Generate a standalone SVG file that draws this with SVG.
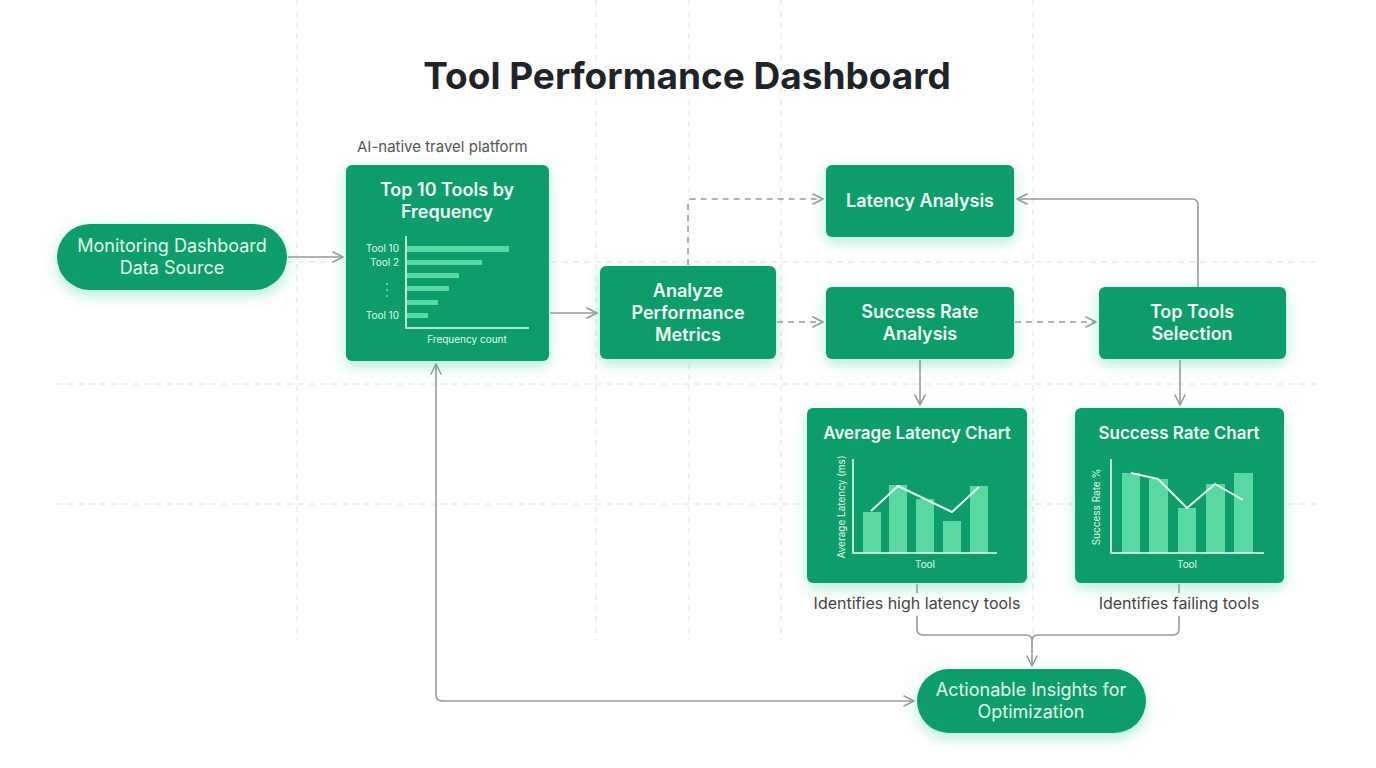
<svg xmlns="http://www.w3.org/2000/svg" width="1376" height="768" viewBox="0 0 1376 768">
<defs>
<filter id="glow" x="-30%" y="-30%" width="160%" height="170%">
<feDropShadow dx="0" dy="5" stdDeviation="7" flood-color="#3fd39a" flood-opacity="0.42"/>
</filter>
<marker id="arr" viewBox="0 0 12 12" refX="11" refY="6" markerWidth="12" markerHeight="12" markerUnits="userSpaceOnUse" orient="auto-start-reverse">
<path d="M1,1 L11,6 L1,11" fill="none" stroke="#999" stroke-width="1.6" stroke-linecap="round" stroke-linejoin="round"/>
</marker>
<style>
.grid{stroke:#e2e2e2;stroke-width:1;stroke-dasharray:6 5;fill:none}
.node{fill:#0f9d6b;filter:url(#glow)}
.t{font-family:Inter,"Noto Sans","Liberation Sans",sans-serif;text-anchor:middle}
.b{font-weight:600;font-size:18px;fill:#f2fcf7}
.r{font-weight:400;font-size:18px;fill:#e3f7ee}
.small{font-weight:400;font-size:10px;fill:#e3f7ee}
.lab{font-weight:400;font-size:16px;fill:#444}
.bar{fill:#5ad8a2}
.axis{stroke:#e8faf1;stroke-width:1.6;fill:none}
.trend{stroke:#e8faf1;stroke-width:2;fill:none;stroke-linejoin:round}
.c{stroke:#999;stroke-width:1.6;fill:none}
.d{stroke-dasharray:6 5}
</style>
</defs>
<rect width="1376" height="768" fill="#ffffff"/>
<g id="grid">
<line class="grid" x1="297" y1="0" x2="297" y2="640"/>
<line class="grid" x1="596" y1="0" x2="596" y2="640"/>
<line class="grid" x1="689" y1="0" x2="689" y2="640"/>
<line class="grid" x1="781" y1="0" x2="781" y2="640"/>
<line class="grid" x1="1033" y1="0" x2="1033" y2="640"/>
<line class="grid" x1="56" y1="262" x2="1317" y2="262"/>
<line class="grid" x1="56" y1="384" x2="1317" y2="384"/>
<line class="grid" x1="56" y1="504" x2="1317" y2="504"/>
</g>
<text class="t" x="687" y="89" style="font-weight:700;font-size:37px;fill:#1f2328">Tool Performance Dashboard</text>
<text x="357" y="152" style="font-family:Inter,'Noto Sans','Liberation Sans',sans-serif;font-size:15px;fill:#555">AI-native travel platform</text>
<g id="connectors">
<line class="c" x1="288" y1="257" x2="343" y2="257" marker-end="url(#arr)"/>
<line class="c" x1="550" y1="313" x2="597" y2="313" marker-end="url(#arr)"/>
<path class="c d" d="M688,265 V203 Q688,199 692,199 H823" marker-end="url(#arr)"/>
<line class="c d" x1="777" y1="322" x2="823" y2="322" marker-end="url(#arr)"/>
<line class="c d" x1="1015" y1="322" x2="1096" y2="322" marker-end="url(#arr)"/>
<path class="c" d="M1198,287 V205 Q1198,199 1192,199 H1017" marker-end="url(#arr)"/>
<line class="c" x1="920" y1="360" x2="920" y2="405" marker-end="url(#arr)"/>
<line class="c" x1="1180" y1="360" x2="1180" y2="405" marker-end="url(#arr)"/>
<line class="c" x1="917" y1="584" x2="917" y2="593"/>
<line class="c" x1="1179" y1="584" x2="1179" y2="593"/>
<path class="c" d="M917,616 V629 Q917,635 923,635 H1026 Q1032,635 1032,641 V666" marker-end="url(#arr)"/>
<path class="c" d="M1179,616 V629 Q1179,635 1173,635 H1038 Q1032,635 1032,641"/>
<path class="c" d="M436,364 V695 Q436,701 442,701 H914" marker-start="url(#arr)" marker-end="url(#arr)"/>
</g>
<g id="monitoring">
<rect class="node" x="57" y="224" width="230" height="66" rx="33"/>
<text class="t r" x="172" y="252">Monitoring Dashboard</text>
<text class="t r" x="172" y="274">Data Source</text>
</g>
<g id="top10">
<rect class="node" x="346" y="165" width="203" height="196" rx="6"/>
<text class="t b" x="447" y="196">Top 10 Tools by</text>
<text class="t b" x="447" y="218">Frequency</text>
<rect class="bar" x="407" y="246" width="102" height="6"/>
<rect class="bar" x="407" y="260" width="75" height="5"/>
<rect class="bar" x="407" y="273" width="52" height="5"/>
<rect class="bar" x="407" y="286" width="42" height="5"/>
<rect class="bar" x="407" y="300" width="31" height="5"/>
<rect class="bar" x="407" y="313" width="21" height="5"/>
<path class="axis" d="M406,236 V328 H529"/>
<text class="small" x="399" y="252" text-anchor="end" style="font-family:Inter,'Noto Sans','Liberation Sans',sans-serif">Tool 10</text>
<text class="small" x="399" y="266" text-anchor="end" style="font-family:Inter,'Noto Sans','Liberation Sans',sans-serif">Tool 2</text>
<circle cx="387" cy="284" r="0.8" fill="#e3f7ee"/>
<circle cx="387" cy="290" r="0.8" fill="#e3f7ee"/>
<circle cx="387" cy="296" r="0.8" fill="#e3f7ee"/>
<text class="small" x="399" y="319" text-anchor="end" style="font-family:Inter,'Noto Sans','Liberation Sans',sans-serif">Tool 10</text>
<text class="t small" x="467" y="343">Frequency count</text>
</g>
<g id="analyze">
<rect class="node" x="600" y="266" width="176" height="93" rx="6"/>
<text class="t b" x="688" y="297">Analyze</text>
<text class="t b" x="688" y="319">Performance</text>
<text class="t b" x="688" y="341">Metrics</text>
</g>
<g id="latency-analysis">
<rect class="node" x="826" y="165" width="188" height="72" rx="6"/>
<text class="t b" x="920" y="207">Latency Analysis</text>
</g>
<g id="success-analysis">
<rect class="node" x="826" y="287" width="188" height="72" rx="6"/>
<text class="t b" x="920" y="318">Success Rate</text>
<text class="t b" x="920" y="340">Analysis</text>
</g>
<g id="top-tools">
<rect class="node" x="1099" y="287" width="187" height="72" rx="6"/>
<text class="t b" x="1192" y="318">Top Tools</text>
<text class="t b" x="1192" y="340">Selection</text>
</g>
<g id="latency-chart">
<rect class="node" x="807" y="408" width="220" height="175" rx="6"/>
<text class="t b" x="917" y="439" style="font-size:17px">Average Latency Chart</text>
<rect class="bar" x="863" y="512" width="18" height="41"/>
<rect class="bar" x="889" y="485" width="18" height="68"/>
<rect class="bar" x="916" y="499" width="18" height="54"/>
<rect class="bar" x="943" y="521" width="18" height="32"/>
<rect class="bar" x="970" y="486" width="18" height="67"/>
<polyline class="trend" points="871,511 898,486 925,499 952,512 979,487"/>
<path class="axis" d="M853,459 V553 H997"/>
<text class="t small" transform="translate(845,507) rotate(-90)">Average Latency (ms)</text>
<text class="t small" x="925" y="568">Tool</text>
</g>
<g id="success-chart">
<rect class="node" x="1075" y="408" width="209" height="175" rx="6"/>
<text class="t b" x="1179" y="439" style="font-size:17px">Success Rate Chart</text>
<rect class="bar" x="1122" y="473" width="18" height="80"/>
<rect class="bar" x="1149" y="479" width="19" height="74"/>
<rect class="bar" x="1178" y="508" width="18" height="45"/>
<rect class="bar" x="1206" y="484" width="19" height="69"/>
<rect class="bar" x="1234" y="473" width="19" height="80"/>
<polyline class="trend" points="1131,473 1158,479 1187,508 1215,484 1243,500"/>
<path class="axis" d="M1111,459 V553 H1264"/>
<text class="t small" transform="translate(1100,507) rotate(-90)">Success Rate %</text>
<text class="t small" x="1187" y="568">Tool</text>
</g>
<text class="t lab" x="917" y="609">Identifies high latency tools</text>
<text class="t lab" x="1179" y="609">Identifies failing tools</text>
<g id="insights">
<rect class="node" x="917" y="669" width="229" height="64" rx="32"/>
<text class="t r" x="1031" y="696">Actionable Insights for</text>
<text class="t r" x="1031" y="718">Optimization</text>
</g>
</svg>
